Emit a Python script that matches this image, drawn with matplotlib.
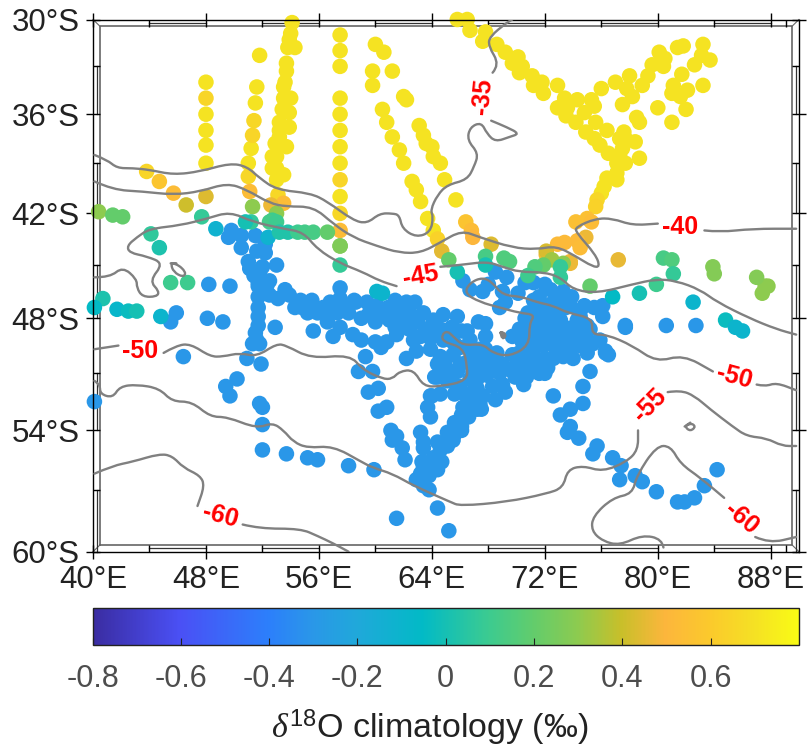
import numpy as np
import matplotlib
matplotlib.use('Agg')
import matplotlib.pyplot as plt
from matplotlib.colors import LinearSegmentedColormap, Normalize
from matplotlib.cm import ScalarMappable
from matplotlib.path import Path
from matplotlib.patches import PathPatch

plt.rcParams['font.family'] = ['Liberation Sans', 'DejaVu Sans']
plt.rcParams['mathtext.fontset'] = 'custom'
plt.rcParams['mathtext.rm'] = 'Liberation Sans'
plt.rcParams['mathtext.it'] = 'Liberation Serif:italic'

# stations, degrees east / degrees south
yellow_lon = [48, 48, 48, 48, 48, 51.8, 51.6, 51.5, 51.2, 51.0,
              54.1, 54.0, 53.9, 53.8, 54.3, 53.7, 53.7, 53.6, 53.5, 53.5, 54.0, 53.4, 53.9, 53.2, 53.2, 53.9,
              53.2, 52.9, 53.7, 53.2, 52.7, 53.0, 52.7, 53.0, 53.5, 53.0,
              57.5, 57.5, 57.5, 57.5, 57.5, 57.5, 57.5, 57.5, 57.5,
              60.0, 60.6, 59.8, 61.2, 59.8, 62.0, 62.2, 60.5, 60.8, 61.2, 61.7, 62.0, 62.6, 62.9, 63.2, 63.7, 64.1,
              63.1, 63.4, 63.6, 64.0, 64.1, 64.6, 64.9, 65.7]
yellow_lat = [34.0, 36.0, 37.0, 37.9, 39.0, 32.3, 34.3, 35.3, 38.1, 39.0,
              30.2, 30.9, 31.3, 31.8, 31.8, 32.8, 33.3, 34.0, 34.3, 35.0, 35.0, 35.7, 35.9, 36.5, 37.0, 36.8,
              37.4, 37.8, 38.0, 37.9, 38.6, 38.6, 39.3, 39.3, 39.7, 40.0,
              31.0, 32.0, 33.0, 35.0, 36.0, 37.0, 38.0, 39.0, 41.0,
              31.6, 32.1, 33.3, 33.3, 34.2, 34.9, 35.1, 35.7, 36.5, 37.4, 38.2, 39.0, 40.1, 40.6, 41.3, 42.3, 43.0,
              36.7, 37.3, 37.8, 38.0, 38.6, 39.0, 40.0, 41.2]
diag_lon = [65.8, 66.5, 66.7, 67.8, 67.6, 68.6, 69.2, 70.1, 69.7, 70.4, 70.2, 71.1, 71.8, 71.2, 72.9, 71.9, 73.4,
            72.9, 73.6, 74.3, 73.5, 75.3, 75.5, 74.8, 75.6, 74.2, 74.9, 76.4, 75.5, 75.9, 76.5, 77.6, 77.3, 77.8,
            78.4, 77.5, 77.3, 78.7, 77.7, 77.1, 77.1, 76.4, 77.1, 76.2, 76.0,
            77.0, 76.0, 78.0, 77.8, 78.2, 77.5, 78.9, 79.3, 79.6, 80.4, 80.5, 80.1, 81.4, 81.8, 83.2, 83.1, 83.7,
            82.6, 81.7, 83.2, 81.1, 81.0, 82.1, 81.6, 82.0, 80.0, 78.5, 78.7, 81.0]
diag_lat = [30.0, 30.0, 30.7, 30.8, 31.4, 31.6, 32.1, 32.4, 32.8, 33.0, 33.4, 33.6, 34.0, 34.2, 34.2, 34.7, 35.0,
            35.6, 35.6, 35.1, 36.1, 35.1, 35.5, 35.9, 36.5, 36.5, 37.1, 37.0, 37.5, 37.9, 38.4, 37.1, 37.5, 37.6,
            37.7, 38.1, 38.5, 38.7, 39.0, 39.0, 39.6, 39.9, 40.0, 40.4, 40.8,
            34.0, 34.4, 33.6, 34.4, 34.9, 35.4, 34.2, 33.6, 32.9, 33.0, 32.5, 32.1, 31.8, 31.7, 31.6, 32.3, 32.6,
            32.9, 33.5, 34.2, 34.2, 34.7, 34.5, 34.9, 35.7, 35.6, 36.2, 36.5, 36.5]
yellow_val = 0.71

# points that sit on the front, each with its own value
front_lon = [48.0, 48.0, 51.4, 51.3, 51.0, 51.1, 53.1, 53.5, 52.6, 57.5, 57.5, 57.5, 64.4, 64.7, 66.4, 66.8, 66.9, 68.2,
             43.8, 44.7, 45.7, 46.6,
             75.7, 75.6, 75.0, 75.3, 74.2, 74.9, 74.3, 73.4, 72.9, 74.5, 72.1, 73.8, 77.2, 73.8]
front_lat = [35.0, 41.0, 36.4, 37.3, 39.8, 40.7, 40.9, 41.4, 41.5, 40.0, 42.0, 43.0, 43.5, 44.2, 42.5, 43.0, 43.4, 43.8,
             39.5, 40.1, 40.8, 41.5,
             41.2, 41.6, 42.3, 42.5, 42.5, 43.4, 43.6, 43.7, 43.8, 44.0, 44.4, 44.8, 44.7, 44.9]
front_val = [0.65, 0.44, 0.66, 0.65, 0.66, 0.53, 0.66, 0.53, 0.47, 0.65, 0.66, 0.53, 0.64, 0.45, 0.57, 0.53, 0.5, 0.44,
             0.65, 0.58, 0.53, 0.41,
             0.66, 0.64, 0.55, 0.53, 0.55, 0.47, 0.52, 0.52, 0.52, 0.53, 0.48, 0.48, 0.46, 0.47]

green_lon = [51.3, 53.0, 57.5, 72.1, 72.5, 73.3, 71.9, 71.3, 70.8, 73.1, 73.1, 75.2, 40.4, 41.4, 42.1, 44.1, 44.7, 47.7,
             51.2, 50.8, 52.7, 52.5, 53.0, 52.4, 45.5, 46.7, 40.7, 40.1, 41.7, 42.5, 43.1, 44.8,
             53.2, 53.8, 54.5, 55.0, 55.6, 56.6, 57.5, 57.5, 65.2, 65.8, 67.8, 67.8, 69.1, 69.5, 60.1, 60.5,
             76.8, 78.7, 79.9, 87.6, 87.8, 87.4, 87.0, 83.9, 84.0, 80.4, 81.0, 81.1, 82.5, 84.8, 85.5, 86.0, 48.7]
green_lat = [41.6, 42.0, 43.9, 44.2, 44.7, 44.9, 45.0, 45.1, 45.6, 45.1, 45.7, 46.2, 41.9, 42.1, 42.2, 43.2, 44.0, 42.2,
             42.5, 42.5, 42.4, 42.5, 42.5, 43.4, 46.0, 46.0, 46.9, 47.4, 47.5, 47.6, 47.6, 47.9,
             43.1, 43.1, 43.1, 43.1, 43.1, 43.1, 45.0, 43.9, 44.7, 45.4, 44.5, 45.0, 44.6, 44.8, 46.5, 46.6,
             46.8, 46.6, 46.1, 46.2, 46.2, 46.6, 45.7, 45.1, 45.5, 44.6, 44.7, 45.5, 47.1, 48.1, 48.5, 48.7, 42.9]
green_val = [0.3, 0.3, 0.27, 0.43, 0.33, 0.3, 0.2, 0.15, 0.1, 0.08, 0.08, 0.2, 0.3, 0.2, 0.2, 0.07, 0.02, 0.08,
             0.07, 0.0, 0.1, 0.12, 0.1, -0.12, 0.1, 0.1, 0.02, -0.05, -0.08, -0.03, 0.0, -0.1,
             0.03, 0.03, 0.1, 0.12, 0.13, 0.2, 0.08, 0.27, 0.2, 0.0, 0.13, 0.0, 0.15, 0.15, -0.1, -0.1,
             -0.05, 0.0, 0.1, 0.3, 0.3, 0.3, 0.28, 0.28, 0.28, 0.13, 0.15, 0.08, -0.1, -0.03, -0.1, -0.1, -0.12]

west_lon = [49.6, 49.8, 50.5, 51.5, 50.5, 51.6, 52.2, 52.2, 51.1, 52.0, 53.0, 48.2, 49.7, 51.7, 51.7, 51.7, 51.5, 51.7, 51.6,
            51.3, 51.8, 51.7, 50.9, 51.9, 46.4, 50.2, 49.4, 49.7, 51.8, 52.0, 52.0, 52.0, 53.7, 55.2, 55.9, 58.1, 59.9,
            40.1, 61.5, 48.1, 49.2, 45.5, 45.9, 52.9, 51.0, 51.4, 51.7, 51.8, 52.5]
west_lat = [43.4, 43.0, 43.3, 43.3, 44.0, 44.2, 43.8, 44.3, 45.2, 45.1, 45.0, 46.1, 46.2, 46.2, 47.4, 48.4, 48.8, 47.9, 49.2,
            49.4, 49.4, 46.8, 50.2, 50.5, 50.1, 51.3, 51.7, 52.2, 52.6, 52.8, 53.7, 55.0, 55.2, 55.4, 55.5, 55.8, 56.0,
            52.5, 58.4, 48.0, 48.2, 48.2, 47.7, 48.5, 44.8, 45.6, 46.0, 45.4, 45.9]
band_lon = [52.3, 53.6, 53.9, 53.1, 54.3, 55.2, 55.5, 56.3, 56.8, 57.5, 57.5, 57.3, 58.1, 59.0, 58.6, 59.4, 60.1, 61.4,
            62.2, 62.8, 63.4, 62.9, 60.0, 61.0, 61.9, 64.1, 56.6, 55.6, 57.5, 57.0, 58.4, 59.0, 60.0, 60.8, 60.4,
            61.5, 62.7, 62.9, 62.2, 59.3, 58.8, 59.8, 64.4, 63.9, 63.9,
            54.8, 55.8, 56.6, 58.0, 60.9, 61.5, 62.5, 63.0, 63.6, 64.6, 65.4, 59.5, 60.5, 61.4, 62.4,
            52.5, 54.7, 55.9, 57.8, 58.5, 59.6, 60.7, 61.7, 62.4, 64.6, 63.2]
band_lat = [46.2, 46.4, 46.7, 46.9, 47.4, 47.7, 47.0, 47.4, 47.1, 46.9, 46.3, 47.7, 47.7, 48.0, 47.1, 47.1, 47.3, 47.0,
            47.1, 47.1, 47.7, 48.2, 48.2, 48.1, 48.2, 48.5, 48.2, 48.7, 48.5, 49.0, 48.9, 49.2, 49.3, 49.3, 49.6,
            48.9, 49.2, 49.8, 50.2, 50.1, 50.9, 50.9, 51.2, 49.7, 49.1,
            47.4, 47.6, 47.5, 47.3, 47.4, 47.6, 47.8, 48.2, 48.6, 48.7, 48.5, 47.8, 47.8, 48.5, 48.6,
            46.7, 47.0, 47.7, 47.4, 47.0, 47.7, 47.6, 47.6, 47.9, 48.6, 49.0]
centre_lon = [66.2, 66.7, 67.6, 68.0, 68.5, 69.3, 69.0, 69.2, 68.8, 70.1, 70.6, 71.2, 71.6, 72.4, 73.3, 73.9, 70.8, 72.1,
              71.9, 70.7, 70.2, 69.7, 72.6, 74.8, 75.5, 76.1, 76.1, 74.3, 75.0, 77.7, 73.6, 74.0, 75.0, 76.3, 74.0,
              73.3, 72.2, 75.2, 74.7, 72.6, 74.7, 73.8, 71.1, 70.7, 69.9, 69.2, 69.0, 68.5, 67.6, 66.9, 66.2, 67.3,
              67.8, 65.8, 64.8, 64.1, 64.8, 66.1, 66.5, 67.8, 65.3, 64.6, 65.5, 64.2, 65.1, 65.8, 65.8, 63.9, 66.5,
              67.2, 67.9, 68.6, 68.2, 69.0, 69.7, 71.2, 71.9, 72.6, 71.4, 67.2, 67.9, 67.2, 68.3, 72.0, 73.1, 71.4,
              70.9, 70.4, 70.2, 74.5, 66.7, 67.8, 72.7, 70.2, 72.0, 73.1, 72.7, 71.3,
              71.2, 72.0, 72.9, 73.5, 71.5, 72.5, 73.4, 74.0, 71.3, 72.2, 73.0, 73.8, 71.0, 72.6, 70.5, 74.5, 74.8,
              75.4, 69.7, 70.5, 71.6, 66.9, 67.5, 66.0, 64.8, 68.6, 67.2, 66.6, 66.1, 65.6, 65.1, 64.7, 64.4, 63.8, 63.8,
              65.6, 66.7, 67.4, 64.9, 66.0, 67.0, 67.8, 68.5, 69.5, 70.2, 70.9, 72.0, 68.8, 66.7, 65.6, 66.3, 67.4, 64.6,
              72.0, 73.1, 73.8, 74.5, 75.2, 75.9, 72.7, 73.4, 71.3, 70.6]
centre_lat = [45.9, 46.4, 46.5, 46.1, 45.4, 45.7, 46.5, 47.1, 47.4, 46.6, 46.0, 46.0, 46.8, 46.4, 46.5, 46.8, 47.7, 47.7,
              48.5, 48.3, 48.6, 49.0, 47.1, 47.3, 47.4, 47.3, 47.9, 48.1, 48.4, 48.5, 49.2, 49.1, 49.9, 49.9, 50.2,
              50.1, 50.7, 50.9, 51.7, 52.2, 52.6, 52.9, 50.9, 51.2, 51.2, 52.0, 51.6, 52.4, 52.2, 52.4, 52.8, 48.2,
              48.3, 47.9, 47.8, 48.1, 49.2, 48.7, 48.7, 49.0, 49.2, 50.1, 50.0, 51.2, 51.3, 50.9, 51.7, 52.2, 50.4,
              50.2, 50.4, 49.9, 50.8, 50.5, 50.0, 49.7, 49.5, 49.5, 50.4, 51.3, 51.1, 51.8, 51.7, 49.0, 48.1, 49.2,
              49.0, 49.3, 49.9, 49.5, 49.2, 49.7, 48.6, 50.8, 50.2, 49.2, 48.0, 47.6,
              47.0, 47.3, 47.5, 47.4, 48.0, 48.2, 48.5, 48.5, 48.7, 49.3, 49.7, 49.7, 50.2, 50.2, 50.4, 47.9, 48.9,
              49.4, 50.8, 51.6, 51.0, 50.9, 50.8, 49.6, 50.7, 50.6, 52.9, 53.3, 53.8, 54.2, 54.8, 55.6, 56.0, 56.3, 57.0,
              49.4, 49.7, 49.7, 50.5, 50.5, 50.8, 51.0, 50.5, 50.8, 50.2, 50.5, 51.0, 51.0, 51.3, 52.1, 52.1, 52.6, 52.1,
              46.1, 47.0, 47.3, 47.6, 48.6, 49.2, 49.4, 49.7, 48.6, 48.0]
south_lon = [59.5, 60.2, 60.2, 60.8, 61.1, 61.5, 61.2, 61.9, 62.1, 64.4, 65.2, 64.0, 63.7, 63.9, 63.2, 63.4, 63.4, 64.4,
             64.6, 64.1, 64.1, 63.4, 63.3, 63.2, 62.9, 63.4, 65.5, 66.1, 65.1, 65.6, 66.1, 66.5, 67.5, 65.8, 64.4,
             65.6, 65.1, 66.0, 69.0, 66.9,
             73.1, 73.8, 73.6, 74.4, 75.7, 75.4, 76.8, 77.4, 77.3, 78.4, 78.9, 79.9, 81.4, 81.9, 82.6, 83.3, 84.2,
             76.3, 76.5, 77.7, 80.6, 82.7]
south_lat = [52.0, 51.8, 53.0, 52.8, 54.0, 54.3, 54.5, 54.9, 55.5, 57.9, 59.0, 52.2, 52.8, 53.3, 54.1, 54.6, 54.9, 54.6,
             55.0, 55.4, 55.9, 55.9, 55.6, 56.2, 56.5, 56.8, 54.5, 54.0, 54.1, 53.6, 53.2, 52.9, 52.9, 53.8, 50.5,
             50.9, 51.4, 51.7, 51.7, 52.0,
             53.2, 53.8, 54.1, 54.4, 54.8, 55.2, 55.4, 55.8, 56.5, 56.3, 56.6, 57.1, 57.6, 57.6, 57.4, 56.8, 56.0,
             49.8, 50.0, 48.4, 48.4, 48.4]
blue_val = -0.3

# contours of the surface field
c40_a_lon = [40.1, 41.0, 41.7, 42.8, 44.0, 45.7, 47.6, 49.7, 50.9, 51.8, 53.0, 55.4, 56.6, 58.4, 59.4, 60.3, 61.2, 61.7, 61.9,
             62.9, 63.9, 64.1, 63.9, 64.4, 65.1, 66.5, 67.0, 67.3, 66.5, 66.7, 67.5, 67.9, 68.5, 69.5, 70.2, 69.3, 68.2]
c40_a_lat = [38.5, 38.8, 39.3, 39.3, 39.4, 39.7, 39.5, 39.0, 39.2, 39.9, 40.6, 40.8, 41.3, 42.4, 42.6, 42.0, 42.0, 42.1, 42.9,
             43.4, 43.1, 42.2, 41.8, 40.9, 40.3, 40.0, 39.2, 38.4, 37.6, 36.8, 36.5, 37.2, 37.7, 37.4, 37.2, 36.8, 36.4]
c35_lon = [68.3, 68.8, 68.0, 68.1, 69.3, 69.7]
c35_lat = [33.4, 32.9, 31.7, 31.1, 30.2, 30.0]
c40_b_lon = [40.1, 41.4, 43.5, 45.7, 47.6, 49.5, 50.9, 52.5, 53.7, 55.6, 57.0, 58.4, 60.1, 61.7, 63.2, 64.6, 66.1, 67.4,
             69.7, 71.4, 72.8, 74.2, 75.4, 75.9, 75.6, 74.2, 74.2, 75.6, 76.8, 78.2, 80.0]
c40_b_lat = [40.1, 40.6, 40.7, 40.9, 40.7, 40.2, 40.6, 41.4, 41.6, 41.6, 42.6, 43.4, 43.9, 44.3, 44.3, 43.7, 43.0, 43.4,
             44.0, 44.1, 43.9, 44.5, 45.1, 45.1, 44.4, 43.1, 42.8, 42.3, 42.3, 42.7, 42.6]
c40_c_lon = [83.3, 84.4, 86.7, 89.8]
c40_c_lat = [43.0, 43.1, 42.9, 42.9]
c45_a_lon = [40.1, 41.2, 42.1, 43.1, 43.1, 43.5, 44.5, 44.7, 44.0, 45.0, 43.8, 42.6, 42.4, 43.1, 44.0, 46.2, 48.1, 49.7,
             51.3, 53.5, 54.9, 55.9, 57.5, 59.1, 60.3, 61.5]
c45_a_lat = [45.7, 45.7, 45.1, 45.8, 46.3, 46.8, 46.8, 46.5, 45.9, 44.9, 44.5, 44.3, 43.9, 43.4, 42.9, 42.7, 42.3, 41.9,
             42.5, 42.9, 43.1, 44.1, 44.9, 45.4, 45.9, 46.2]
c45_b_lon = [64.6, 66.0, 67.9, 69.0, 70.2, 71.9, 73.1, 74.0, 75.7, 78.2, 79.9, 81.3, 83.0, 84.2, 86.5, 88.4, 89.8]
c45_b_lat = [45.1, 45.0, 44.8, 45.1, 45.4, 45.4, 45.7, 46.4, 46.6, 46.1, 45.8, 45.9, 46.4, 47.1, 48.0, 48.6, 48.9]
c45_loop_lon = [45.5, 45.9, 46.6, 46.4, 45.7, 45.5, 45.9]
c45_loop_lat = [44.9, 44.9, 45.4, 45.7, 45.4, 44.9, 44.9]
c50_a_lon = [40.1, 41.8]
c50_a_lat = [49.7, 49.5]
c50_b_lon = [45.0, 45.9, 46.9, 48.3, 49.2, 50.4, 51.6, 53.0, 53.7, 55.4, 58.2, 59.1, 60.5, 61.2, 61.7, 62.7, 63.4, 64.6,
             66.5, 66.5, 66.2, 64.8, 64.7, 65.1, 65.5, 66.2, 67.6, 68.3, 69.5, 70.9, 70.9, 71.3, 70.2, 68.8, 67.4,
             66.3, 66.7, 67.6, 68.3, 69.0, 70.4, 71.4, 72.6, 73.6, 75.4, 75.3, 76.4, 78.2, 79.9, 81.8, 83.9]
c50_b_lat = [49.9, 49.5, 49.4, 50.1, 50.1, 49.9, 50.1, 49.4, 49.5, 50.2, 50.0, 50.8, 51.3, 51.3, 50.9, 50.8, 51.7, 51.7,
             51.4, 50.6, 49.6, 49.3, 48.9, 48.7, 49.0, 49.5, 49.4, 49.9, 50.1, 49.5, 48.3, 47.8, 47.7, 47.4, 47.1,
             46.6, 46.0, 45.7, 46.0, 46.7, 46.8, 47.1, 47.3, 47.7, 48.0, 48.9, 48.9, 49.5, 50.4, 50.0, 50.9]
c50_c_lon = [87.0, 87.6, 88.4, 89.8]
c50_c_lat = [51.6, 51.7, 51.5, 51.9]
c55_a_lon = [40.1, 40.5, 40.5, 41.4, 41.9, 43.1, 44.7, 45.6, 47.0, 48.3, 49.5, 51.6, 52.7, 53.5, 54.2, 55.2, 57.0, 59.0,
             59.8, 61.2, 62.7, 65.3, 66.0, 69.3, 72.1, 73.3, 73.6, 74.7, 76.1, 77.8, 78.6, 78.6]
c55_a_lat = [51.4, 51.6, 52.1, 52.3, 51.7, 51.6, 51.8, 52.5, 52.5, 53.3, 53.3, 53.9, 53.6, 54.0, 54.6, 54.9, 54.8, 55.6,
             55.9, 56.2, 56.8, 57.6, 57.8, 57.6, 57.2, 56.9, 56.0, 55.8, 56.1, 55.6, 55.0, 54.0]
c55_b_lon = [80.7, 81.6, 82.6, 83.7, 85.3, 86.3, 87.7, 88.8, 89.8]
c55_b_lat = [52.0, 51.9, 52.2, 52.9, 53.8, 54.3, 54.4, 54.8, 54.8]
c55_loop_lon = [81.9, 82.3, 82.7, 82.3, 81.9, 82.3]
c55_loop_lat = [53.8, 53.6, 53.8, 54.05, 53.8, 53.6]
c60_a_lon = [40.1, 41.4, 42.8, 44.7, 45.6, 46.4, 47.6, 47.9, 47.4]
c60_a_lat = [56.2, 55.8, 55.6, 55.2, 55.3, 55.9, 56.3, 56.8, 57.8]
c60_b_lon = [50.6, 51.8, 54.7, 55.9, 57.0, 58.1]
c60_b_lat = [58.7, 58.9, 58.9, 59.25, 59.6, 60.0]
c60_c_lon = [80.4, 80.3, 78.9, 77.3, 76.1, 75.3, 75.4, 76.8, 78.2, 78.5, 79.9, 80.9, 81.6, 83.0, 84.7]
c60_c_lat = [59.8, 59.4, 59.2, 59.7, 59.5, 59.0, 58.3, 57.4, 57.2, 56.3, 54.8, 54.8, 55.7, 56.4, 57.4]
c60_d_lon = [86.9, 87.9, 89.8]
c60_d_lat = [59.3, 59.6, 59.3]
blob_lon = [68.9, 69.1, 69.2, 69.0, 68.9]
blob_lat = [48.8, 48.8, 49.0, 49.1, 48.8]

contour_lab = ['-35', '-40', '-45', '-50', '-50', '-55', '-60', '-60']
contour_lab_lon = [67.6, 81.6, 63.2, 43.3, 85.4, 79.4, 49.0, 85.9]
contour_lab_lat = [34.9, 42.8, 45.6, 49.8, 51.2, 52.7, 58.3, 58.4]
contour_lab_rot = [85, 0, 10, 0, -15, 45, -15, -40]

cbar_stops = [-0.8, -0.6, -0.4, -0.3, -0.2, -0.05, 0.1, 0.2, 0.3, 0.4, 0.5, 0.6, 0.7, 0.8]
cbar_colors = ['#3a2ca0', '#4a50f5', '#2c7ffb', '#2a97e8', '#20a8da', '#02bac6', '#3ccb90', '#62cc6c',
               '#8ccb50', '#c8bf2a', '#fcb63c', '#fbc92c', '#f5e024', '#f9fb15']
cbar_ticks = [-0.8, -0.6, -0.4, -0.2, 0, 0.2, 0.4, 0.6]
cbar_labels = ['-0.8', '-0.6', '-0.4', '-0.2', '0', '0.2', '0.4', '0.6']


def miller(lat):
    r = np.radians(np.asarray(lat, dtype=float))
    return 1.25 * np.log(np.tan(np.pi / 4 + 0.4 * r))


def miller_inv(y):
    return np.degrees(2.5 * (np.arctan(np.exp(0.8 * np.asarray(y, dtype=float))) - np.pi / 4))


def south(v):
    return -np.asarray(v, dtype=float)


def draw_contour(ax, xs, ys, lw=1.7):
    # round the corners: curve through segment midpoints, vertices as control points
    pts = np.column_stack([xs, south(ys)])
    verts = [pts[0]]
    codes = [Path.MOVETO]
    for i in range(1, len(pts) - 1):
        verts += [pts[i], (pts[i] + pts[i + 1]) / 2]
        codes += [Path.CURVE3, Path.CURVE3]
    verts.append(pts[-1])
    codes.append(Path.LINETO)
    ax.add_patch(PathPatch(Path(verts, codes), fc='none', ec='#808080', lw=lw, zorder=3, capstyle='round'))


W, H = 809, 753
fig = plt.figure(figsize=(W / 100, H / 100), dpi=100)
ax = fig.add_axes([93 / W, 1 - 551.7 / H, 706 / W, 532.2 / H])
ax.set_xlim(40, 90)
ax.set_yscale('function', functions=(miller, miller_inv))
ax.set_ylim(-60, -30)

lo, hi = cbar_stops[0], cbar_stops[-1]
pos = [(s - lo) / (hi - lo) for s in cbar_stops]
cmap = LinearSegmentedColormap.from_list('front', list(zip(pos, cbar_colors)), N=512)
norm = Normalize(lo, hi)

size = 125
ax.scatter(yellow_lon + diag_lon, south(yellow_lat + diag_lat), s=size, c=[yellow_val] * len(yellow_lon + diag_lon),
           cmap=cmap, norm=norm, linewidths=0, clip_on=False, zorder=2)
ax.scatter(front_lon, south(front_lat), s=size, c=front_val, cmap=cmap, norm=norm, linewidths=0, clip_on=False, zorder=2.1)
blue_lon = west_lon + band_lon + centre_lon + south_lon
blue_lat = west_lat + band_lat + centre_lat + south_lat
ax.scatter(blue_lon, south(blue_lat), s=size, c=[blue_val] * len(blue_lon), cmap=cmap, norm=norm, linewidths=0,
           clip_on=False, zorder=2.2)
ax.scatter(green_lon, south(green_lat), s=size, c=green_val, cmap=cmap, norm=norm, linewidths=0, clip_on=False, zorder=2.3)

lines = [(c40_a_lon, c40_a_lat), (c35_lon, c35_lat), (c40_b_lon, c40_b_lat), (c40_c_lon, c40_c_lat),
         (c45_a_lon, c45_a_lat), (c45_b_lon, c45_b_lat), (c45_loop_lon, c45_loop_lat),
         (c50_a_lon, c50_a_lat), (c50_b_lon, c50_b_lat), (c50_c_lon, c50_c_lat),
         (c55_a_lon, c55_a_lat), (c55_b_lon, c55_b_lat), (c55_loop_lon, c55_loop_lat),
         (c60_a_lon, c60_a_lat), (c60_b_lon, c60_b_lat), (c60_c_lon, c60_c_lat), (c60_d_lon, c60_d_lat)]
for xs, ys in lines:
    draw_contour(ax, xs, ys)
draw_contour(ax, blob_lon, blob_lat, lw=2.4)

for t, x, y, r in zip(contour_lab, contour_lab_lon, contour_lab_lat, contour_lab_rot):
    ax.text(x, -y, t, color='#ff0000', fontsize=18, fontweight='bold', rotation=r, rotation_mode='anchor',
            ha='center', va='center', zorder=4)

# ticks and the double frame
lon_ticks = [40, 48, 56, 64, 72, 80, 88]
lat_ticks = [-30, -36, -42, -48, -54, -60]
ax.set_xticks(lon_ticks, ['%d°E' % v for v in lon_ticks])
ax.set_yticks(lat_ticks, ['%d°S' % -v for v in lat_ticks])
ax.set_xticks([44, 52, 60, 68, 76, 84, 89.1], minor=True)
ax.set_yticks([-33, -39, -45, -51, -57], minor=True)
ax.tick_params(axis='both', which='major', direction='inout', length=9.7, width=1, top=True, right=True,
               labelsize=22.5, labelcolor='#222222')
ax.tick_params(axis='both', which='minor', direction='in', length=5, width=1, top=True, right=True,
               labelbottom=False, labelleft=False)
ax.tick_params(axis='x', which='major', pad=5)
ax.tick_params(axis='y', which='major', pad=5)
for s in ax.spines.values():
    s.set_linewidth(1)

dx, dy = 7 / 706, 6.8 / 532.2
frame_kw = dict(transform=ax.transAxes, clip_on=False, zorder=1)
ax.plot([dx, 1 - dx, 1 - dx, dx, dx], [dy, dy, 1 - dy, 1 - dy, dy], color='#666666', lw=1.2, **frame_kw)
for a, b in [((0, 0), (dx, dy)), ((1, 0), (1 - dx, dy)), ((0, 1), (dx, 1 - dy)), ((1, 1), (1 - dx, 1 - dy))]:
    ax.plot([a[0], b[0]], [a[1], b[1]], color='#666666', lw=0.8, **frame_kw)
xfr = ax.get_xaxis_transform()
yfr = ax.get_yaxis_transform()
for x0, x1 in [(44, 48), (52, 56), (60, 64), (68, 72), (76, 80), (84, 88)]:
    for yy in (dy / 2, 1 - dy / 2):
        ax.plot([x0, x1], [yy, yy], color='#333333', lw=0.9, transform=xfr, clip_on=False, zorder=1)
for y0, y1 in [(-33, -36), (-39, -42), (-45, -48), (-51, -54), (-57, -60)]:
    for xx in (dx / 2, 1 - dx / 2):
        ax.plot([xx, xx], [y0, y1], color='#333333', lw=0.9, transform=yfr, clip_on=False, zorder=1)
ax.set_xlim(40, 90)
ax.set_ylim(-60, -30)

# colour bar
cax = fig.add_axes([92.5 / W, 1 - 644.5 / H, 706.5 / W, 37 / H])
cb = fig.colorbar(ScalarMappable(norm=norm, cmap=cmap), cax=cax, orientation='horizontal', ticks=cbar_ticks)
cb.ax.set_xticklabels(cbar_labels)
cb.solids.set_edgecolor('face')
cb.outline.set_linewidth(1)
cb.outline.set_edgecolor('#222222')
cax.tick_params(direction='in', length=5, width=0.8, color='#222222', labelsize=22, labelcolor='#4d4d4d', pad=14)
fig.text(430 / W, 1 - 738 / H, r'$\delta^{18}$O climatology (‰)', fontsize=24.5, color='#222222', ha='center',
         va='baseline')

fig.savefig('out.png', dpi=100)
